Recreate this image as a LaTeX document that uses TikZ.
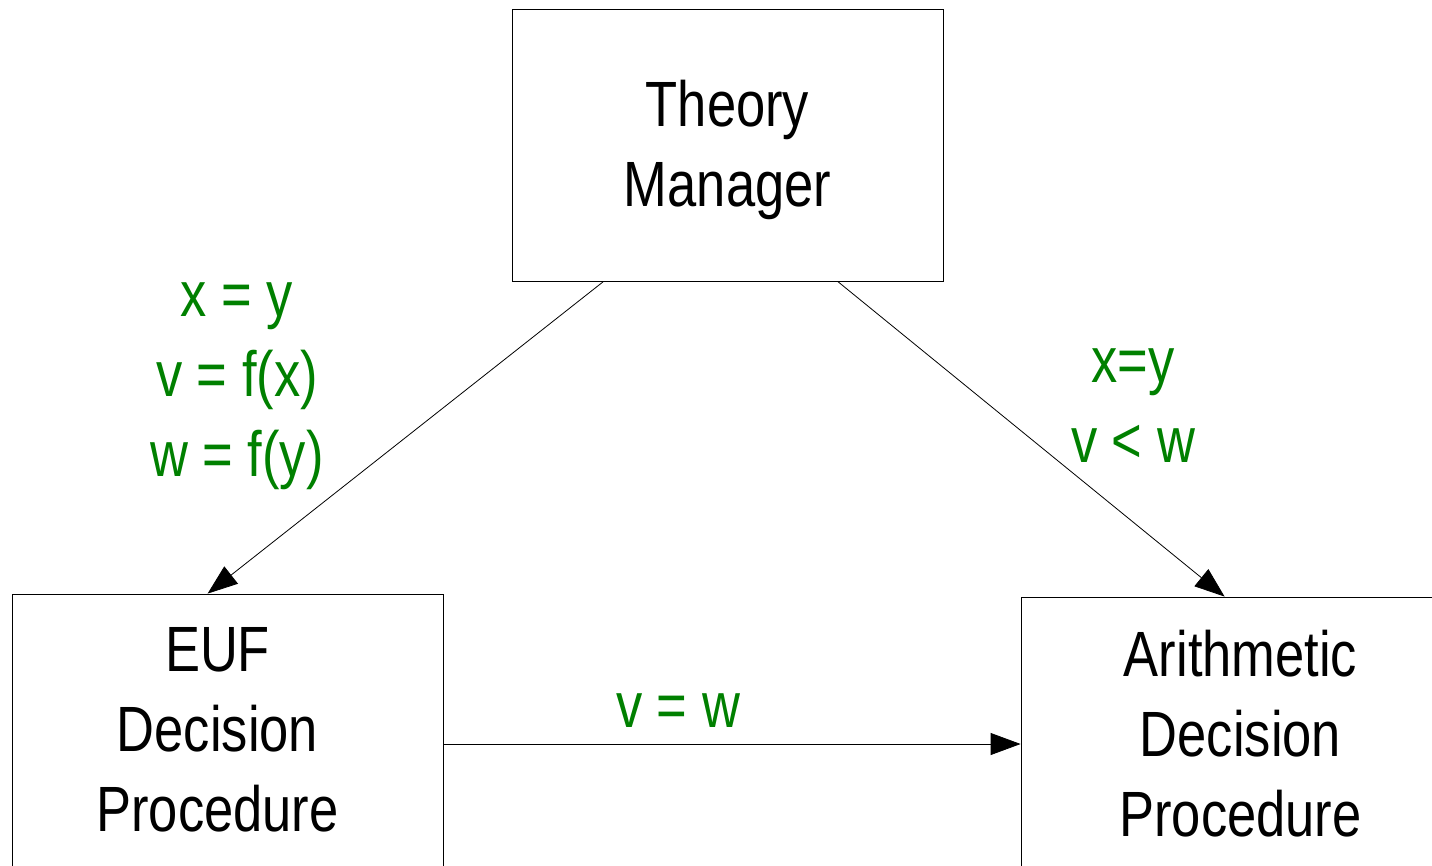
\documentclass[tikz,border=0pt]{standalone}
\usepackage{fontspec}
\setmainfont{Liberation Sans}[FakeStretch=0.82]
\usepackage{xcolor}
\usepackage{tikz}
\usetikzlibrary{arrows.meta, positioning}
\definecolor{lblgreen}{RGB}{0,128,0}

\begin{document}
\begin{tikzpicture}[x=1pt, y=-1pt,
		box/.style={draw, line width=0.8pt, minimum width=431pt, minimum height=272pt, inner sep=0pt},
		boxtext/.style={align=center, inner sep=0pt, font=\fontsize{64}{80}\selectfont},
		lbl/.style={text=lblgreen, align=center, inner sep=0pt, font=\fontsize{64}{80}\selectfont},
		flow/.style={line width=0.8pt, -{Triangle[length=30pt, width=22pt]}}]
				% Frame:
				\useasboundingbox (0, 0) rectangle (1432, 865);
				\clip (0, 0) rectangle (1432, 865);
				% Boxes:
				\node[box, label={[boxtext, yshift=-5pt]center:Theory\\Manager}](TM) at (727.5, 145){};
				\node[box, label={[boxtext, xshift=-10pt]center:EUF\\Decision\\Procedure}](EUF) at (227.5, 730){};
				\node[box, label={[boxtext, xshift=4pt, yshift=-1pt]center:Arithmetic\\Decision\\Procedure}](ADP) at (1236.5, 733){};
				% Connectors:
				\draw[flow] ([xshift=92pt]TM.south west) -- ([xshift=196pt]EUF.north west);
				\draw[flow] ([xshift=326pt]TM.south west) -- ([xshift=204pt]ADP.north west);
				\draw[flow] ([yshift=-14pt]EUF.east) -- ([yshift=-14pt]EUF.east -| ADP.west);
				% Labels:
				\node[lbl](L1) at (237, 386){x = y\\v = f(x)\\w = f(y)};
				\node[lbl](L2) at (1133, 406){x=y\\v < w};
				\node[lbl](L3) at (678, 711){v = w};
			\end{tikzpicture}
\end{document}
